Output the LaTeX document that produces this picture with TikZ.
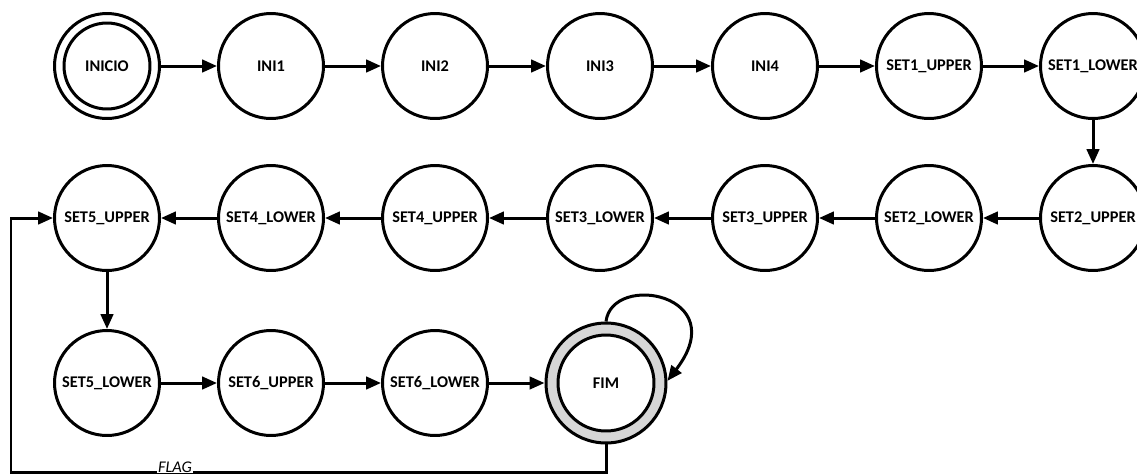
\documentclass[tikz,border=0pt]{standalone}
\usepackage{fontspec}
\setmainfont{Carlito}
\usetikzlibrary{arrows.meta}
\begin{document}
\begin{tikzpicture}[x=0.02cm,y=-0.02cm,
  lbl/.style={font=\fontsize{9.3}{10}\selectfont\bfseries},
  state/.style={circle,draw,line width=0.06cm,minimum size=2.1cm,inner sep=0pt,lbl},
  trans/.style={line width=0.06cm,-{Triangle[length=0.3cm,width=0.25cm]}},
  line width=0.06cm]
\useasboundingbox (0,0) rectangle (1137,474);
% first row
\node[state] (INICIO) at (107,66) {INICIO};
\draw (INICIO) circle[radius=0.86cm];
\node[state] (INI1) at (271,66) {INI1};
\node[state] (INI2) at (435,66) {INI2};
\node[state] (INI3) at (600,66) {INI3};
\node[state] (INI4) at (765,66) {INI4};
\node[state] (S1U) at (929,66) {SET1\_UPPER};
\node[state] (S1L) at (1093,66) {SET1\_LOWER};
% second row (right to left)
\node[state] (S2U) at (1093,218) {SET2\_UPPER};
\node[state] (S2L) at (929,218) {SET2\_LOWER};
\node[state] (S3U) at (765,218) {SET3\_UPPER};
\node[state] (S3L) at (600,218) {SET3\_LOWER};
\node[state] (S4U) at (435,218) {SET4\_UPPER};
\node[state] (S4L) at (271,218) {SET4\_LOWER};
\node[state] (S5U) at (107,218) {SET5\_UPPER};
% third row
\node[state] (S5L) at (107,383) {SET5\_LOWER};
\node[state] (S6U) at (271,383) {SET6\_UPPER};
\node[state] (S6L) at (435,383) {SET6\_LOWER};
\node[state,fill=black!16,minimum size=2.4cm] (FIM) at (606,383) {};
\draw[fill=white] (FIM) circle[radius=0.96cm];
\node[lbl] (FIMt) at (FIM) {FIM};
% transitions
\draw[trans] (INICIO) -- (INI1);
\draw[trans] (INI1) -- (INI2);
\draw[trans] (INI2) -- (INI3);
\draw[trans] (INI3) -- (INI4);
\draw[trans] (INI4) -- (S1U);
\draw[trans] (S1U) -- (S1L);
\draw[trans] (S1L) -- (S2U);
\draw[trans] (S2U) -- (S2L);
\draw[trans] (S2L) -- (S3U);
\draw[trans] (S3U) -- (S3L);
\draw[trans] (S3L) -- (S4U);
\draw[trans] (S4U) -- (S4L);
\draw[trans] (S4L) -- (S5U);
\draw[trans] (S5U) -- (S5L);
\draw[trans] (S5L) -- (S6U);
\draw[trans] (S6U) -- (S6L);
\draw[trans] (S6L) -- (FIM);
% self loop on the final state
\draw[trans] (FIM.90) .. controls (612,272) and (734,294) .. (FIM.2);
% FLAG return path
\coordinate (fb) at (11,472);
\draw[trans] (FIM.south) |- (fb) |- (S5U.west);
\node[fill=white,inner sep=0.4pt,font=\fontsize{9.3}{10}\selectfont\itshape] (flag) at (175,467) {FLAG};
\end{tikzpicture}
\end{document}
